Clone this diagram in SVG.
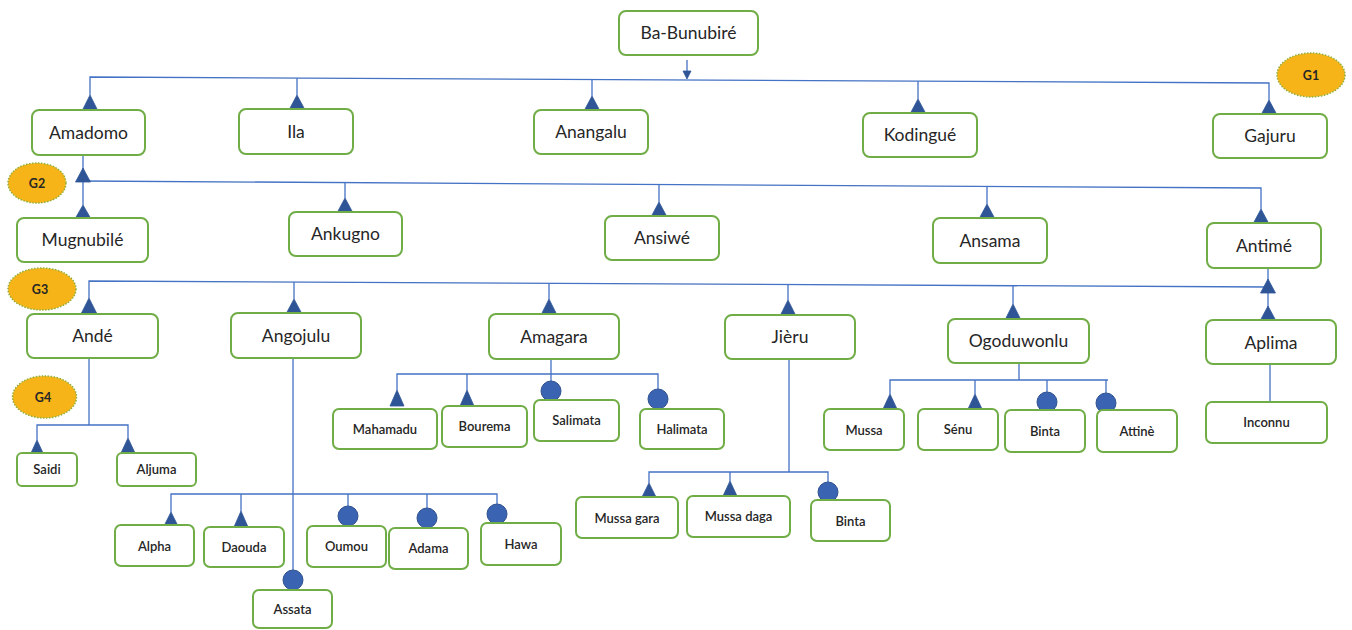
<svg xmlns="http://www.w3.org/2000/svg" width="1352" height="630" viewBox="0 0 1352 630">
<style>
.box{fill:#fff;stroke:#70AD47;stroke-width:2}
.t{font-family:Lato,"Open Sans","Liberation Sans",sans-serif;font-size:17.5px;fill:#262626;text-anchor:middle}
.s{font-family:Lato,"Open Sans","Liberation Sans",sans-serif;font-size:13px;fill:#262626;text-anchor:middle;font-weight:600}
.g{font-family:Lato,"Open Sans","Liberation Sans",sans-serif;font-size:12.5px;fill:#262626;text-anchor:middle;font-weight:700}
.gen{fill:#F6B418;stroke:#8FAF3A;stroke-width:1.5;stroke-dasharray:1.5 1.5}
.ln{fill:none;stroke:#4472C4;stroke-width:1.3}
.tri{fill:#2F5597;stroke:#2F5597;stroke-width:0.8;stroke-linejoin:round}
.cir{fill:#3A63B2;stroke:#2F528F;stroke-width:1}
</style>
<rect width="1352" height="630" fill="#fff"/>

<g id="connectors">
<!-- root arrow -->
<line class="ln" x1="687" y1="60" x2="687" y2="72"/>
<polygon class="tri" points="683,71 691,71 687,79"/>
<!-- G1 -->
<path class="ln" d="M90,95 V77 L1269,83 V100"/>
<line class="ln" x1="297" y1="78" x2="297" y2="95"/>
<line class="ln" x1="592" y1="79.6" x2="592" y2="96"/>
<line class="ln" x1="918" y1="81.2" x2="918" y2="99"/>
<polygon class="tri" points="90,95 82.5,110 97.5,110"/>
<polygon class="tri" points="297,95 289.5,109 304.5,109"/>
<polygon class="tri" points="592,96 584.5,110 599.5,110"/>
<polygon class="tri" points="918,99 910.5,113 925.5,113"/>
<polygon class="tri" points="1269,100 1261.5,114 1276.5,114"/>
<!-- G2 -->
<path class="ln" d="M83,155 V205"/>
<path class="ln" d="M83,181 L1261,188 V209"/>
<line class="ln" x1="345" y1="182.5" x2="345" y2="198"/>
<line class="ln" x1="659" y1="184.4" x2="659" y2="202"/>
<line class="ln" x1="987" y1="186.4" x2="987" y2="204"/>
<polygon class="tri" points="83,168 75.5,182 90.5,182"/>
<polygon class="tri" points="83,205 75.5,218 90.5,218"/>
<polygon class="tri" points="345,198 337.5,212 352.5,212"/>
<polygon class="tri" points="659,202 651.5,216 666.5,216"/>
<polygon class="tri" points="987,204 979.5,218 994.5,218"/>
<polygon class="tri" points="1261,209 1253.5,223 1268.5,223"/>
<!-- G3 -->
<path class="ln" d="M1268,268 V307"/>
<path class="ln" d="M89,298 V281 L1268,287"/>
<line class="ln" x1="294" y1="282" x2="294" y2="299"/>
<line class="ln" x1="549" y1="283.3" x2="549" y2="299"/>
<line class="ln" x1="788" y1="284.5" x2="788" y2="300"/>
<line class="ln" x1="1013" y1="285.7" x2="1013" y2="304"/>
<polygon class="tri" points="1268,279 1260.5,293 1275.5,293"/>
<polygon class="tri" points="1268,306 1260.5,320 1275.5,320"/>
<polygon class="tri" points="89,298 81.5,313 96.5,313"/>
<polygon class="tri" points="294,299 286.5,313 301.5,313"/>
<polygon class="tri" points="549,299 541.5,314 556.5,314"/>
<polygon class="tri" points="788,300 780.5,315 795.5,315"/>
<polygon class="tri" points="1013,304 1005.5,319 1020.5,319"/>
<!-- Andé children -->
<path class="ln" d="M89,358 V425"/>
<path class="ln" d="M37,440 V425 H128 V438"/>
<polygon class="tri" points="37,440 31,453 43,453"/>
<polygon class="tri" points="128,438 121,453 135,453"/>
<!-- Angojulu children -->
<path class="ln" d="M293,358 V570"/>
<path class="ln" d="M171,512 V494 H497 V504"/>
<line class="ln" x1="241" y1="494" x2="241" y2="511"/>
<line class="ln" x1="348" y1="494" x2="348" y2="506"/>
<line class="ln" x1="427" y1="494" x2="427" y2="508"/>
<polygon class="tri" points="171,512 164.5,525 177.5,525"/>
<polygon class="tri" points="241,511 234,527 248,527"/>
<circle class="cir" cx="348" cy="516" r="10"/>
<circle class="cir" cx="427" cy="518" r="10"/>
<circle class="cir" cx="497" cy="514" r="10"/>
<circle class="cir" cx="293" cy="580" r="10"/>
<!-- Amagara children -->
<path class="ln" d="M551,359 V381"/>
<path class="ln" d="M397,390 V374 H658 V389"/>
<line class="ln" x1="467" y1="374" x2="467" y2="390"/>
<polygon class="tri" points="397,390 390,406 404,406"/>
<polygon class="tri" points="467,390 460,406 474,406"/>
<circle class="cir" cx="551" cy="391" r="10"/>
<circle class="cir" cx="658" cy="399" r="10"/>
<!-- Jièru children -->
<path class="ln" d="M789,359 V472"/>
<path class="ln" d="M649,483 V472 H828 V482"/>
<line class="ln" x1="730" y1="472" x2="730" y2="481"/>
<polygon class="tri" points="649,483 642,497 656,497"/>
<polygon class="tri" points="730,481 723,496 737,496"/>
<circle class="cir" cx="828" cy="492" r="10"/>
<!-- Ogoduwonlu children -->
<path class="ln" d="M1019,363 V380"/>
<path class="ln" d="M890,394 V380 H1108"/>
<line class="ln" x1="975" y1="380" x2="975" y2="394"/>
<line class="ln" x1="1047" y1="380" x2="1047" y2="392"/>
<line class="ln" x1="1106" y1="380" x2="1106" y2="393"/>
<polygon class="tri" points="890,394 883,409 897,409"/>
<polygon class="tri" points="975,394 968,409 982,409"/>
<circle class="cir" cx="1047" cy="402" r="10"/>
<circle class="cir" cx="1106" cy="403" r="10"/>
<!-- Aplima - Inconnu -->
<line class="ln" x1="1270" y1="364" x2="1270" y2="402"/>
</g>

<g id="generations">
<g id="g1"><ellipse class="gen" cx="1311" cy="75" rx="34" ry="22"/><text class="g" x="1311" y="79.5">G1</text></g>
<g id="g2"><ellipse class="gen" cx="37" cy="183" rx="29" ry="20"/><text class="g" x="37" y="187.5">G2</text></g>
<g id="g3"><ellipse class="gen" cx="42" cy="289" rx="34" ry="21"/><text class="g" x="40" y="293.5">G3</text></g>
<g id="g4"><ellipse class="gen" cx="44.5" cy="397" rx="32" ry="21"/><text class="g" x="43" y="401.5">G4</text></g>
</g>

<g id="n-babunubire"><rect class="box" x="619" y="11" width="139" height="44" rx="7"/><text class="t" x="688.5" y="39">Ba-Bunubiré</text></g>
<g id="n-amadomo"><rect class="box" x="32" y="110" width="113" height="45" rx="7"/><text class="t" x="88.5" y="139">Amadomo</text></g>
<g id="n-ila"><rect class="box" x="239" y="109" width="114" height="45" rx="7"/><text class="t" x="296" y="138">Ila</text></g>
<g id="n-anangalu"><rect class="box" x="534" y="110" width="114" height="44" rx="7"/><text class="t" x="591" y="138">Anangalu</text></g>
<g id="n-kodingue"><rect class="box" x="863" y="113" width="114" height="44" rx="7"/><text class="t" x="920" y="141">Kodingué</text></g>
<g id="n-gajuru"><rect class="box" x="1213" y="114" width="114" height="44" rx="7"/><text class="t" x="1270" y="142">Gajuru</text></g>
<g id="n-mugnubile"><rect class="box" x="17" y="218" width="131" height="44" rx="7"/><text class="t" x="82.5" y="246">Mugnubilé</text></g>
<g id="n-ankugno"><rect class="box" x="289" y="212" width="113" height="44" rx="7"/><text class="t" x="345.5" y="240">Ankugno</text></g>
<g id="n-ansiwe"><rect class="box" x="605" y="216" width="114" height="44" rx="7"/><text class="t" x="662" y="244">Ansiwé</text></g>
<g id="n-ansama"><rect class="box" x="933" y="218" width="114" height="45" rx="7"/><text class="t" x="990" y="247">Ansama</text></g>
<g id="n-antime"><rect class="box" x="1207" y="223" width="114" height="45" rx="7"/><text class="t" x="1264" y="252">Antimé</text></g>
<g id="n-ande"><rect class="box" x="27" y="314" width="131" height="44" rx="7"/><text class="t" x="92.5" y="342">Andé</text></g>
<g id="n-angojulu"><rect class="box" x="231" y="313" width="130" height="45" rx="7"/><text class="t" x="296" y="342">Angojulu</text></g>
<g id="n-amagara"><rect class="box" x="489" y="314" width="130" height="45" rx="7"/><text class="t" x="554" y="343">Amagara</text></g>
<g id="n-jieru"><rect class="box" x="725" y="315" width="130" height="44" rx="7"/><text class="t" x="790" y="343">Jièru</text></g>
<g id="n-ogoduwonlu"><rect class="box" x="948" y="319" width="141" height="44" rx="7"/><text class="t" x="1018.5" y="347">Ogoduwonlu</text></g>
<g id="n-aplima"><rect class="box" x="1206" y="320" width="130" height="44" rx="7"/><text class="t" x="1271" y="349">Aplima</text></g>

<g id="n-saidi"><rect class="box" x="17" y="453" width="60" height="33" rx="5"/><text class="s" x="47" y="474">Saidi</text></g>
<g id="n-aljuma"><rect class="box" x="117" y="453" width="79" height="33" rx="5"/><text class="s" x="156.5" y="474">Aljuma</text></g>
<g id="n-alpha"><rect class="box" x="115" y="525" width="79" height="41" rx="6"/><text class="s" x="154.5" y="551">Alpha</text></g>
<g id="n-daouda"><rect class="box" x="204" y="527" width="80" height="40" rx="6"/><text class="s" x="244" y="552">Daouda</text></g>
<g id="n-oumou"><rect class="box" x="307" y="526" width="79" height="41" rx="6"/><text class="s" x="346.5" y="551">Oumou</text></g>
<g id="n-adama"><rect class="box" x="389" y="528" width="79" height="41" rx="6"/><text class="s" x="428.5" y="553">Adama</text></g>
<g id="n-hawa"><rect class="box" x="481" y="523" width="80" height="42" rx="6"/><text class="s" x="521" y="549">Hawa</text></g>
<g id="n-assata"><rect class="box" x="253" y="590" width="79" height="38" rx="6"/><text class="s" x="292.5" y="614">Assata</text></g>
<g id="n-mahamadu"><rect class="box" x="333" y="409" width="104" height="40" rx="6"/><text class="s" x="385" y="434">Mahamadu</text></g>
<g id="n-bourema"><rect class="box" x="442" y="406" width="85" height="41" rx="6"/><text class="s" x="484.5" y="431">Bourema</text></g>
<g id="n-salimata"><rect class="box" x="534" y="400" width="85" height="41" rx="6"/><text class="s" x="576.5" y="425">Salimata</text></g>
<g id="n-halimata"><rect class="box" x="640" y="409" width="84" height="40" rx="6"/><text class="s" x="682" y="434">Halimata</text></g>
<g id="n-mussagara"><rect class="box" x="576" y="497" width="102" height="41" rx="6"/><text class="s" x="627" y="523">Mussa gara</text></g>
<g id="n-mussadaga"><rect class="box" x="687" y="496" width="103" height="41" rx="6"/><text class="s" x="738.5" y="521">Mussa daga</text></g>
<g id="n-binta1"><rect class="box" x="811" y="500" width="79" height="41" rx="6"/><text class="s" x="850.5" y="526">Binta</text></g>
<g id="n-mussa"><rect class="box" x="824" y="409" width="80" height="41" rx="6"/><text class="s" x="864" y="435">Mussa</text></g>
<g id="n-senu"><rect class="box" x="918" y="409" width="80" height="41" rx="6"/><text class="s" x="958" y="434">Sénu</text></g>
<g id="n-binta2"><rect class="box" x="1005" y="410" width="80" height="42" rx="6"/><text class="s" x="1045" y="436">Binta</text></g>
<g id="n-attine"><rect class="box" x="1097" y="410" width="80" height="42" rx="6"/><text class="s" x="1137" y="436">Attinè</text></g>
<g id="n-inconnu"><rect class="box" x="1206" y="402" width="121" height="41" rx="6"/><text class="s" x="1266.5" y="427">Inconnu</text></g>
</svg>
